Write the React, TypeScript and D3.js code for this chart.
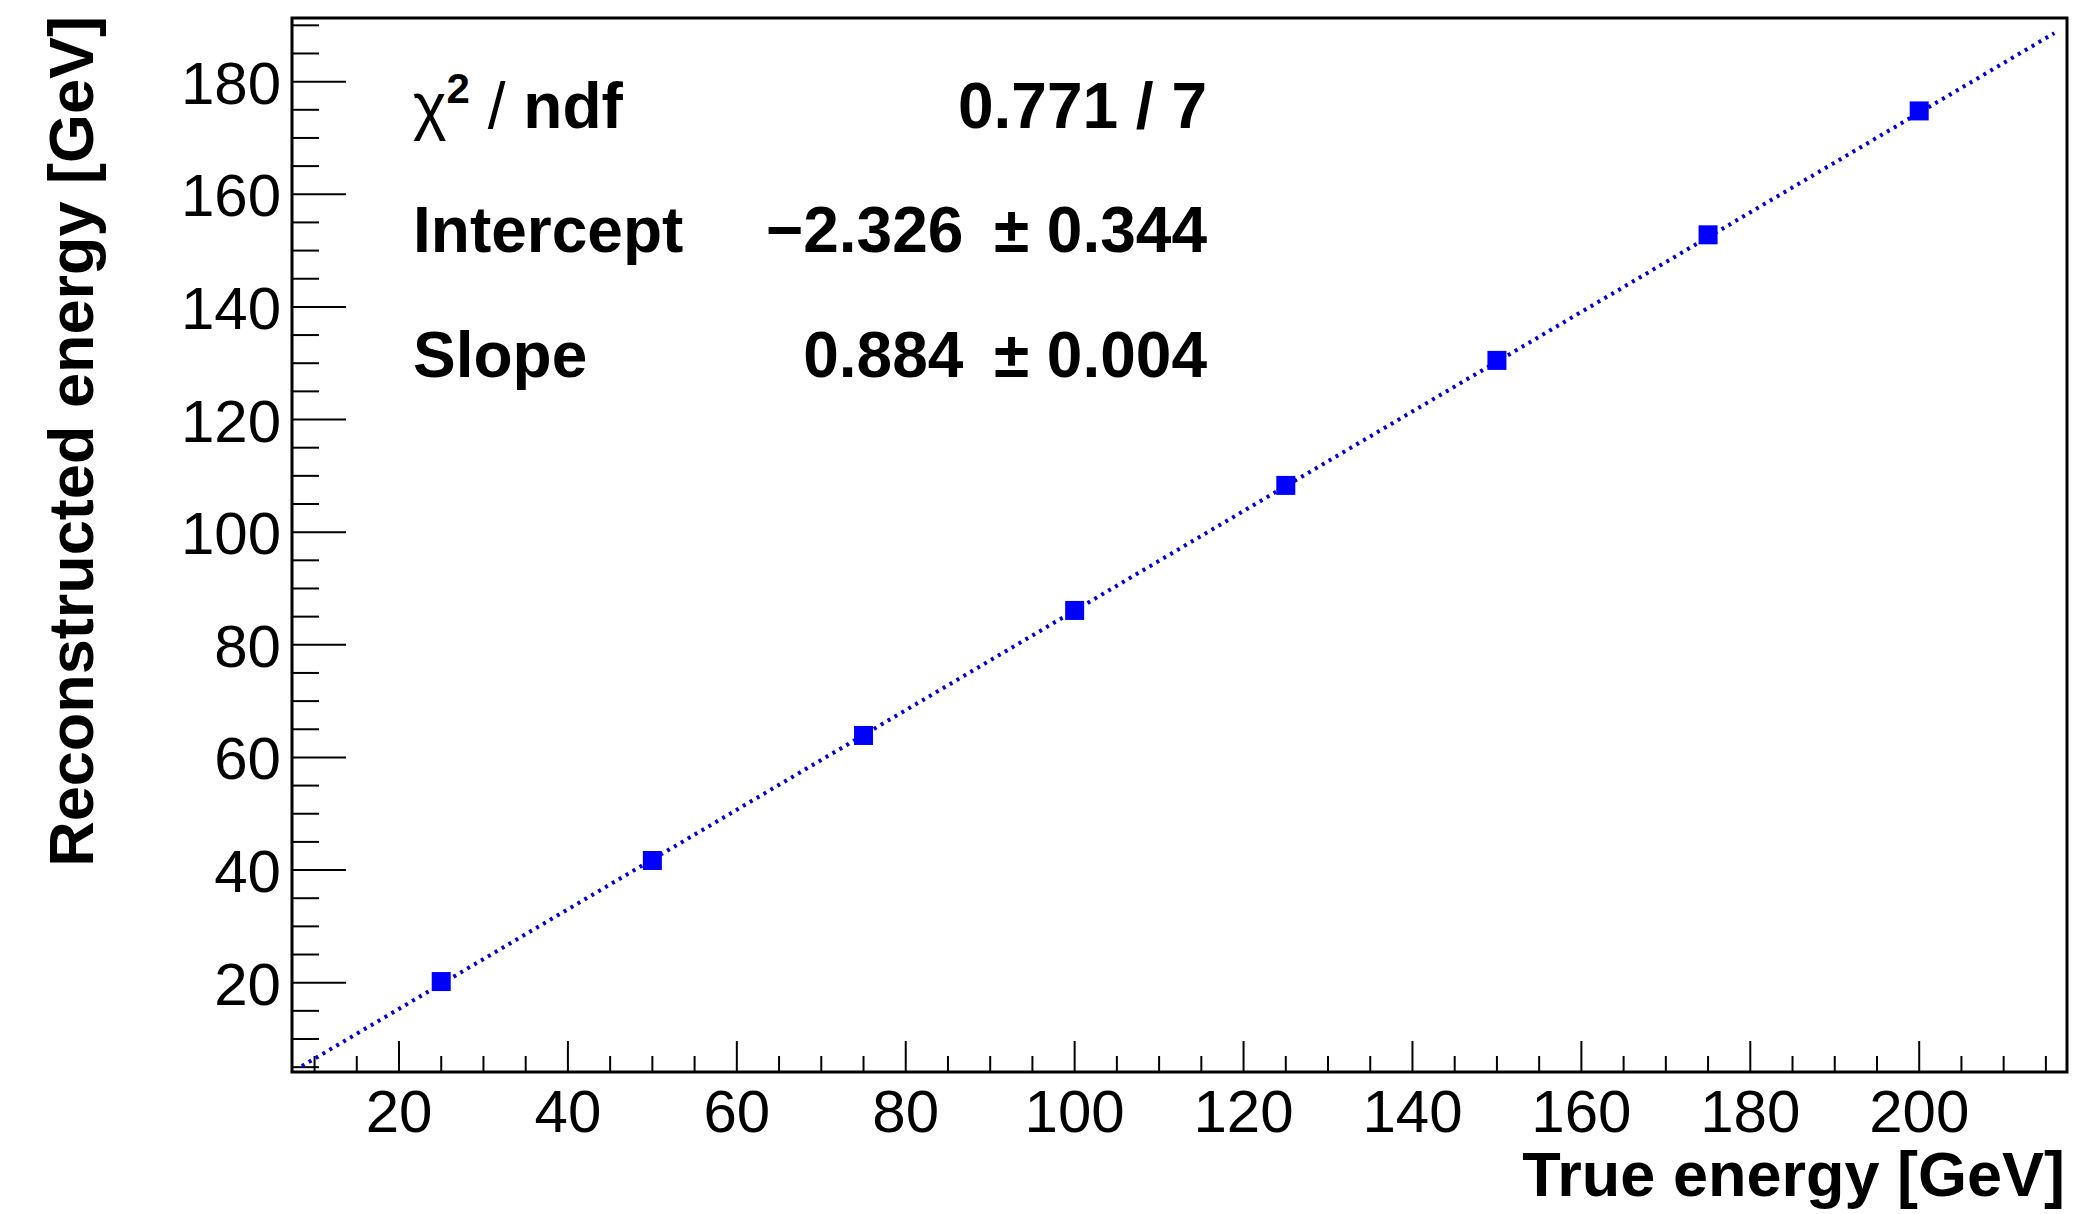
import React from 'react'
import { scaleLinear, range, line } from 'd3'

// measured points (true vs reconstructed energy, GeV)
const trueEnergy = [25, 50, 75, 100, 125, 150, 175, 200]
const recoEnergy = [20.2, 41.7, 63.9, 86.1, 108.3, 130.5, 152.8, 174.8]

// linear fit result
const fitIntercept = -2.326
const fitSlope = 0.884
const fitRange = [8.5, 216]
const statLabels = ['Intercept', 'Slope']
const statValues = ['\u22122.326 \u2009\u00b1 0.344', '0.884 \u2009\u00b1 0.004']
const chi2Text = '0.771 / 7'

const xTicks = [20, 40, 60, 80, 100, 120, 140, 160, 180, 200]
const yTicks = [20, 40, 60, 80, 100, 120, 140, 160, 180]

const W = 2091
const H = 1214
const FONT = '"Liberation Sans", Arial, Helvetica, sans-serif'

export default function App() {
  const left = 292, right = 2067, top = 18, bottom = 1072

  const x = scaleLinear().domain([7.33, 217.5]).range([left, right])
  const y = scaleLinear().domain([4.14, 191.3]).range([bottom, top])

  const xMinor = range(10, 217, 5)
  const yMinor = range(5, 191, 5)

  const fitLine = line<number>()
    .x(d => x(d))
    .y(d => y(fitIntercept + fitSlope * d))

  const ms = 19

  return (
    <svg width={W} height={H} style={{ position: 'absolute', left: 0, top: 0, background: '#fff' }}
      fontFamily={FONT}>
      <rect x={0} y={0} width={W} height={H} fill='#fff' />

      {/* y ticks */}
      {yMinor.map(v => {
        const major = v % 20 === 0
        return <line key={'ym' + v} x1={left} x2={left + (major ? 54 : 27)} y1={y(v)} y2={y(v)}
          stroke='#000' strokeWidth={2} />
      })}
      {/* x ticks */}
      {xMinor.map(v => {
        const major = v % 20 === 0
        return <line key={'xm' + v} x1={x(v)} x2={x(v)} y1={bottom} y2={bottom - (major ? 31 : 16)}
          stroke='#000' strokeWidth={2} />
      })}

      {/* tick labels */}
      {yTicks.map(v => (
        <text key={'yl' + v} x={281} y={y(v) + 22} textAnchor='end' fontSize={60}>{v}</text>
      ))}
      {xTicks.map(v => (
        <text key={'xl' + v} x={x(v)} y={1132} textAnchor='middle' fontSize={60}>{v}</text>
      ))}

      {/* axis titles */}
      <text x={2065} y={1196} textAnchor='end' fontSize={63} fontWeight='bold'>True energy [GeV]</text>
      <text transform={`translate(93,16) rotate(-90)`} textAnchor='end' fontSize={63} fontWeight='bold'>
        Reconstructed energy [GeV]
      </text>

      {/* fit line */}
      <path d={fitLine(fitRange) || ''} fill='none' stroke='#0000d8' strokeWidth={4}
        strokeDasharray='3 5' />

      {/* markers */}
      {trueEnergy.map((e, i) => (
        <rect key={'p' + i} x={x(e) - ms / 2} y={y(recoEnergy[i]) - ms / 2} width={ms} height={ms} fill='#0000ff' />
      ))}

      {/* frame */}
      <rect x={left} y={top} width={right - left} height={bottom - top} fill='none' stroke='#000' strokeWidth={3} />

      {/* fit statistics */}
      <text x={413} y={128} fontSize={64}>
        <tspan>{'\u03c7'}</tspan>
        <tspan fontSize={42} fontWeight='bold' dy={-25}>2</tspan>
        <tspan dy={25}>{' / '}</tspan>
        <tspan fontWeight='bold'>ndf</tspan>
      </text>
      <text x={1207} y={128} textAnchor='end' fontSize={64} fontWeight='bold'>{chi2Text}</text>
      {statLabels.map((s, i) => (
        <g key={s}>
          <text x={413} y={252 + i * 125} fontSize={64} fontWeight='bold'>{s}</text>
          <text x={1207} y={252 + i * 125} textAnchor='end' fontSize={64} fontWeight='bold'>{statValues[i]}</text>
        </g>
      ))}
    </svg>
  )
}
